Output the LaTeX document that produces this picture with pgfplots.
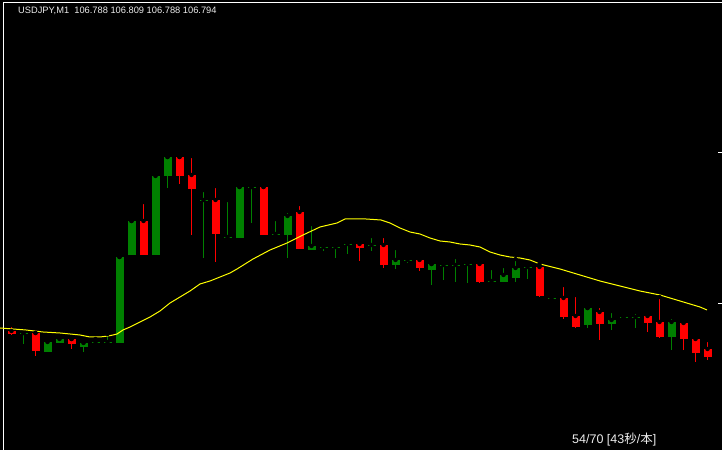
\documentclass[border=0pt]{standalone}
\usepackage{pgfplots}
\pgfplotsset{compat=1.18}
\usepackage{pgfplotstable}
\usepackage{fontspec}
\setmainfont{Liberation Sans}
\newfontfamily\cjk{Noto Sans CJK JP}
\definecolor{mtred}{RGB}{255,0,0}
\definecolor{mtgreen}{RGB}{0,128,0}
\definecolor{mtyellow}{RGB}{255,255,0}
\definecolor{mttext}{RGB}{235,235,235}

% pixel-space candles: x, high, low, body top, body bottom (y grows downward)
\pgfplotstableread{
x h l bt bb
11 325 334 331 333
35 333 355 333 350
71 339 348 339 343
143 202 254 221 254
179 157 183 157 175
191 156 234 175 188
215 186 261 200 233
263 187 234 187 234
299 204 248 212 248
359 241 260 244 247
383 236 267 245 264
419 256 270 260 267
479 262 282 264 281
539 264 296 267 295
563 285 318 298 316
575 295 327 316 326
599 306 339 312 323
647 312 331 316 322
659 297 337 322 336
683 322 349 323 338
695 337 361 339 352
707 340 359 349 356
}\redc
\pgfplotstableread{
x h l bt bb
23 333 343 333 333
47 341 351 342 351
59 338 342 339 342
83 342 351 343 346
95 339 342 342 342
107 334 342 342 342
119 257 342 257 342
131 221 254 221 254
155 175 254 176 254
167 157 187 157 175
203 190 257 200 200
227 200 237 237 237
239 187 237 187 237
251 187 222 187 187
275 219 234 234 234
287 211 257 216 234
311 224 249 246 249
323 244 250 247 247
335 243 257 247 247
347 243 253 244 244
371 236 250 245 245
395 248 268 260 264
407 257 262 260 260
431 264 284 264 269
443 261 279 265 265
455 257 281 265 265
467 262 282 264 264
491 268 281 281 281
503 266 281 275 281
515 259 281 268 277
527 266 278 267 267
551 297 299 298 298
587 308 327 308 324
611 311 329 320 323
623 317 317 317 317
635 312 327 317 317
671 317 349 322 336
}\greenc

\begin{document}
\begin{tikzpicture}
\begin{axis}[
  scale only axis, width=722bp, height=450bp,
  xmin=0, xmax=722, ymin=0, ymax=450, y dir=reverse,
  ticks=none, axis line style={draw=none},
  axis background/.style={fill=black},
  clip=true,
]
% frame
\addplot[white, line width=1bp] coordinates {(3.5,450) (3.5,2.5) (722,2.5)};
\addplot[white, line width=1bp] coordinates {(718,152.5) (722,152.5)};
\addplot[white, line width=1bp] coordinates {(718,303.5) (722,303.5)};

% wicks
\addplot[only marks, mark=none, error bars/.cd, y dir=plus, y explicit, error mark=none,
  error bar style={draw=mtred, line width=1bp}]
  table[x expr=\thisrow{x}+0.5, y=h, y error plus expr=\thisrow{l}-\thisrow{h}+1] {\redc};
\addplot[only marks, mark=none, error bars/.cd, y dir=plus, y explicit, error mark=none,
  error bar style={draw=mtgreen, line width=1bp}]
  table[x expr=\thisrow{x}+0.5, y=h, y error plus expr=\thisrow{l}-\thisrow{h}+1] {\greenc};
% bodies
\addplot[only marks, mark=none, error bars/.cd, y dir=plus, y explicit, error mark=none,
  error bar style={draw=mtred, line width=8bp}]
  table[x expr=\thisrow{x}+0.5, y=bt, y error plus expr=\thisrow{bb}-\thisrow{bt}+1] {\redc};
\addplot[only marks, mark=none, error bars/.cd, y dir=plus, y explicit, error mark=none,
  error bar style={draw=mtgreen, line width=8bp}]
  table[x expr=\thisrow{x}+0.5, y=bt, y error plus expr=\thisrow{bb}-\thisrow{bt}+1] {\greenc};

% moving average
\addplot[mtyellow, line width=1bp] coordinates {
(0,328) (26,330) (43,332) (60,333) (80,335) (90,337) (100,337) (108,336) (113,335)
(117,334) (123,330) (130,327) (140,322) (150,317) (160,311) (170,303) (180,297)
(190,291) (200,284) (210,281) (220,277) (230,273) (237,269) (253,259) (270,250)
(287,243) (303,235) (320,227) (337,223) (345,219) (366,219) (381,220) (390,223)
(400,228) (410,232) (420,234) (430,238) (440,241) (450,242) (460,244) (470,245)
(480,247) (490,252) (500,255) (510,257) (520,258) (530,260) (540,264) (560,269)
(580,275) (600,281) (620,286) (640,291) (660,295) (680,301) (700,307) (707,310)
};

\node[anchor=base west, text=mttext, font=\fontsize{9.3bp}{10bp}\selectfont, inner sep=0pt]
  at (axis cs:18,14) {USDJPY,M1\ \ 106.788 106.809 106.788 106.794};
\node[anchor=base west, text=mttext, font=\fontsize{12.5bp}{14bp}\selectfont, inner sep=0pt]
  at (axis cs:572,444) {54/70 [43{\cjk 秒}/{\cjk 本}]};
\end{axis}
\end{tikzpicture}
\end{document}
